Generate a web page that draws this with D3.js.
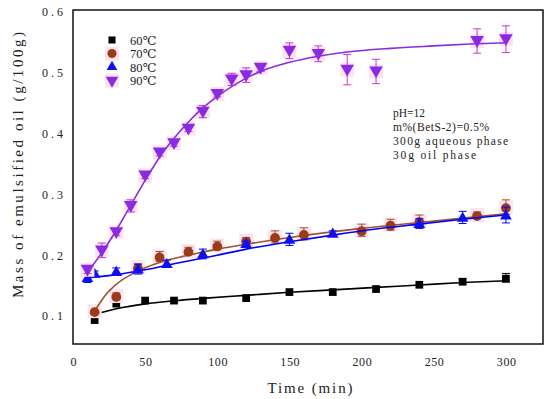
<!DOCTYPE html>
<html>
<head>
<meta charset="utf-8">
<script src="https://cdn.jsdelivr.net/npm/d3@7"></script>
<style>
  body { margin: 0; background: #fff; }
  svg { display: block; }
  text { font-family: "Liberation Serif", "DejaVu Serif", serif; }
</style>
</head>
<body>
<svg id="chart" width="550" height="399"></svg>
<script>
// data
const xTicks = [0, 50, 100, 150, 200, 250, 300];
const yTicks = [0.1, 0.2, 0.3, 0.4, 0.5, 0.6];

const t60 = [15, 30, 50, 70, 90, 120, 150, 180, 210, 240, 270, 300];
const v60 = [0.095, 0.122, 0.127, 0.127, 0.127, 0.131, 0.141, 0.141, 0.146, 0.153, 0.158, 0.163];
const e60 = [0, 0, 0, 0, 0, 0, 0, 0, 0, 0, 0.003, 0.007];

const t70 = [15, 30, 45, 60, 80, 100, 120, 140, 160, 200, 220, 240, 280, 300];
const v70 = [0.108, 0.133, 0.18, 0.198, 0.207, 0.216, 0.224, 0.23, 0.235, 0.241, 0.25, 0.256, 0.266, 0.279];
const e70 = [0, 0.005, 0.006, 0.008, 0.006, 0.007, 0.005, 0.01, 0.01, 0.01, 0.009, 0.01, 0.005, 0.012];

const t80 = [10, 15, 30, 45, 65, 90, 120, 150, 180, 240, 270, 300];
const v80 = [0.163, 0.17, 0.173, 0.177, 0.186, 0.202, 0.219, 0.226, 0.236, 0.252, 0.262, 0.266];
const e80 = [0.008, 0.004, 0.006, 0.008, 0.006, 0.008, 0.004, 0.01, 0.004, 0.008, 0.01, 0.013];

const t90 = [10, 20, 30, 40, 50, 60, 70, 80, 90, 100, 110, 120, 130, 150, 170, 190, 210, 280, 300];
const v90 = [0.176, 0.208, 0.238, 0.281, 0.331, 0.369, 0.384, 0.408, 0.436, 0.465, 0.489, 0.496, 0.508, 0.536, 0.531, 0.505, 0.502, 0.552, 0.555];
const e90 = [0.006, 0.012, 0.006, 0.01, 0.005, 0.006, 0.005, 0.005, 0.01, 0.005, 0.01, 0.012, 0.006, 0.013, 0.013, 0.025, 0.02, 0.02, 0.022];

// fitted curves
const c60t = [15, 30, 50, 70, 90, 120, 150, 180, 210, 240, 270, 300];
const c60v = [0.103, 0.112, 0.12, 0.125, 0.129, 0.134, 0.139, 0.143, 0.147, 0.151, 0.155, 0.158];
const c70t = [15, 22, 30, 45, 60, 80, 100, 120, 150, 200, 250, 300];
const c70v = [0.108, 0.133, 0.152, 0.174, 0.188, 0.2, 0.21, 0.218, 0.229, 0.244, 0.256, 0.268];
const c80t = [10, 30, 50, 70, 100, 120, 150, 180, 210, 240, 270, 300];
const c80v = [0.163, 0.168, 0.176, 0.186, 0.2, 0.21, 0.222, 0.233, 0.243, 0.251, 0.259, 0.266];
const c90t = [10, 20, 30, 40, 50, 60, 70, 80, 90, 100, 110, 120, 130, 150, 170, 190, 220, 250, 275, 300];
const c90v = [0.172, 0.204, 0.241, 0.282, 0.323, 0.361, 0.392, 0.419, 0.442, 0.461, 0.477, 0.491, 0.502, 0.517, 0.527, 0.534, 0.54, 0.544, 0.547, 0.549];

const legendLabels = ["60℃", "70℃", "80℃", "90℃"];
const notes = ["pH=12", "m%(BetS-2)=0.5%", "300g aqueous phase", "30g oil phase"];

const svg = d3.select("#chart");
const plotL = 73, plotR = 543, plotT = 10, plotB = 344;

const x = d3.scaleLinear().domain([0, 325.7]).range([plotL, plotR]);
const y = d3.scaleLinear().domain([0.054, 0.603]).range([plotB, plotT]);

// the original font is a wide CJK serif, so stretch spacing per character
const perChar = 6.4;
const fit = sel => sel.attr("textLength", function () { return this.textContent.length * perChar; })
  .attr("lengthAdjust", "spacing");

// axes (labels only, no tick marks)
const gx = svg.append("g").attr("transform", `translate(0,${plotB})`)
  .call(d3.axisBottom(x).tickValues(xTicks).tickSize(0).tickPadding(13).tickFormat(d3.format("d")));
gx.select(".domain").remove();
gx.selectAll("text").attr("font-size", 12).attr("fill", "#222")
  .style("font-family", "'Liberation Serif', serif").call(fit);

const gy = svg.append("g").attr("transform", `translate(${plotL},0)`)
  .call(d3.axisLeft(y).tickValues(yTicks).tickSize(0).tickPadding(10).tickFormat(d3.format(".1f")));
gy.select(".domain").remove();
gy.selectAll("text").attr("font-size", 12).attr("fill", "#222")
  .style("font-family", "'Liberation Serif', serif")
  .attr("textLength", 21).attr("lengthAdjust", "spacing");

svg.append("rect")
  .attr("x", plotL).attr("y", plotT).attr("width", plotR - plotL).attr("height", plotB - plotT)
  .attr("fill", "none").attr("stroke", "#111").attr("stroke-width", 1.5);

svg.append("text").attr("x", 310).attr("y", 393)
  .attr("text-anchor", "middle").attr("font-size", 15).attr("fill", "#222")
  .attr("textLength", 85).attr("lengthAdjust", "spacing").text("Time (min)");

svg.append("text").attr("transform", "translate(23,165) rotate(-90)")
  .attr("text-anchor", "middle").attr("font-size", 15).attr("fill", "#222")
  .attr("textLength", 266).attr("lengthAdjust", "spacing")
  .text("Mass of emulsified oil (g/100g)");

const series = [
  { t: t60, v: v60, e: e60, ct: c60t, cv: c60v, shape: d3.symbolSquare, size: 60, fill: "#000", line: "#000", bar: "#000", halo: null },
  { t: t70, v: v70, e: e70, ct: c70t, cv: c70v, shape: d3.symbolCircle, size: 75, fill: "#9a3c16", line: "#a0522d", bar: "#a0522d", halo: "#fbe3f3" },
  { t: t80, v: v80, e: e80, ct: c80t, cv: c80v, shape: d3.symbolTriangle, size: 60, fill: "#1010ee", line: "#0000ff", bar: "#0000ff", halo: null },
  { t: t90, v: v90, e: e90, ct: c90t, cv: c90v, shape: d3.symbolTriangle, size: 80, fill: "#8a2be2", line: "#8a2be2", bar: "#cc33cc", halo: "#fbe3f3", flip: true }
];

const line = d3.line().x(d => x(d[0])).y(d => y(d[1])).curve(d3.curveMonotoneX);

series.forEach(s => {
  const g = svg.append("g");
  const pts = s.t.map((t, i) => ({ t, v: s.v[i], e: s.e[i] }));
  if (s.halo) {
    g.selectAll("rect.halo").data(pts).enter().append("rect")
      .attr("x", d => x(d.t) - 7).attr("y", d => y(d.v) - 7)
      .attr("width", 14).attr("height", 14).attr("fill", s.halo);
  }
  g.append("path").datum(s.ct.map((t, i) => [t, s.cv[i]]))
    .attr("d", line).attr("fill", "none").attr("stroke", s.line).attr("stroke-width", 1.6);
  const eb = g.selectAll("g.eb").data(pts.filter(d => d.e > 0)).enter().append("g")
    .attr("stroke", s.bar).attr("stroke-width", 1);
  eb.append("line").attr("x1", d => x(d.t)).attr("x2", d => x(d.t))
    .attr("y1", d => y(d.v - d.e)).attr("y2", d => y(d.v + d.e));
  eb.append("line").attr("x1", d => x(d.t) - 4).attr("x2", d => x(d.t) + 4)
    .attr("y1", d => y(d.v + d.e)).attr("y2", d => y(d.v + d.e));
  eb.append("line").attr("x1", d => x(d.t) - 4).attr("x2", d => x(d.t) + 4)
    .attr("y1", d => y(d.v - d.e)).attr("y2", d => y(d.v - d.e));
  g.selectAll("path.m").data(pts).enter().append("path")
    .attr("d", d3.symbol().type(s.shape).size(s.size))
    .attr("transform", d => `translate(${x(d.t)},${y(d.v) + (s.flip ? -1 : 1)})` + (s.flip ? " rotate(180)" : ""))
    .attr("fill", s.fill);
});

// legend
const lg = svg.append("g");
legendLabels.forEach((lab, i) => {
  const s = series[i];
  const ly = 40 + i * 13.5;
  if (s.halo) lg.append("rect").attr("x", 105).attr("y", ly - 7).attr("width", 14).attr("height", 14).attr("fill", s.halo);
  lg.append("path").attr("d", d3.symbol().type(s.shape).size(s.size - 10))
    .attr("transform", `translate(112,${ly})` + (s.flip ? " rotate(180)" : ""))
    .attr("fill", s.fill);
  lg.append("text").attr("x", 130).attr("y", ly + 4.5).attr("font-size", 12.5)
    .attr("fill", "#222").text(lab);
});

// conditions note
notes.forEach((n, i) => {
  svg.append("text").attr("x", 393).attr("y", 117 + i * 14).attr("font-size", 11.5)
    .attr("fill", "#222").text(n).call(fit);
});
</script>
</body>
</html>
